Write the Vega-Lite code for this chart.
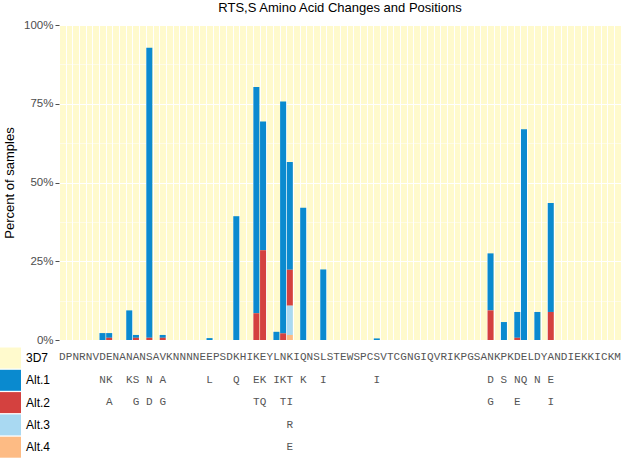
{
  "$schema": "https://vega.github.io/schema/vega-lite/v6.json",
  "padding": {"left": 0, "top": 1, "right": 2, "bottom": 0},
  "autosize": {"type": "pad"},
  "config": {"view": {"stroke": null}, "font": "Liberation Sans"},
  "datasets": {
    "seq": [
      {"pos":1,"allele":"3D7","aa":"D"},{"pos":2,"allele":"3D7","aa":"P"},{"pos":3,"allele":"3D7","aa":"N"},{"pos":4,"allele":"3D7","aa":"R"},{"pos":5,"allele":"3D7","aa":"N"},{"pos":6,"allele":"3D7","aa":"V"},{"pos":7,"allele":"3D7","aa":"D"},{"pos":8,"allele":"3D7","aa":"E"},{"pos":9,"allele":"3D7","aa":"N"},{"pos":10,"allele":"3D7","aa":"A"},
      {"pos":11,"allele":"3D7","aa":"N"},{"pos":12,"allele":"3D7","aa":"A"},{"pos":13,"allele":"3D7","aa":"N"},{"pos":14,"allele":"3D7","aa":"S"},{"pos":15,"allele":"3D7","aa":"A"},{"pos":16,"allele":"3D7","aa":"V"},{"pos":17,"allele":"3D7","aa":"K"},{"pos":18,"allele":"3D7","aa":"N"},{"pos":19,"allele":"3D7","aa":"N"},{"pos":20,"allele":"3D7","aa":"N"},
      {"pos":21,"allele":"3D7","aa":"N"},{"pos":22,"allele":"3D7","aa":"E"},{"pos":23,"allele":"3D7","aa":"E"},{"pos":24,"allele":"3D7","aa":"P"},{"pos":25,"allele":"3D7","aa":"S"},{"pos":26,"allele":"3D7","aa":"D"},{"pos":27,"allele":"3D7","aa":"K"},{"pos":28,"allele":"3D7","aa":"H"},{"pos":29,"allele":"3D7","aa":"I"},{"pos":30,"allele":"3D7","aa":"K"},
      {"pos":31,"allele":"3D7","aa":"E"},{"pos":32,"allele":"3D7","aa":"Y"},{"pos":33,"allele":"3D7","aa":"L"},{"pos":34,"allele":"3D7","aa":"N"},{"pos":35,"allele":"3D7","aa":"K"},{"pos":36,"allele":"3D7","aa":"I"},{"pos":37,"allele":"3D7","aa":"Q"},{"pos":38,"allele":"3D7","aa":"N"},{"pos":39,"allele":"3D7","aa":"S"},{"pos":40,"allele":"3D7","aa":"L"},
      {"pos":41,"allele":"3D7","aa":"S"},{"pos":42,"allele":"3D7","aa":"T"},{"pos":43,"allele":"3D7","aa":"E"},{"pos":44,"allele":"3D7","aa":"W"},{"pos":45,"allele":"3D7","aa":"S"},{"pos":46,"allele":"3D7","aa":"P"},{"pos":47,"allele":"3D7","aa":"C"},{"pos":48,"allele":"3D7","aa":"S"},{"pos":49,"allele":"3D7","aa":"V"},{"pos":50,"allele":"3D7","aa":"T"},
      {"pos":51,"allele":"3D7","aa":"C"},{"pos":52,"allele":"3D7","aa":"G"},{"pos":53,"allele":"3D7","aa":"N"},{"pos":54,"allele":"3D7","aa":"G"},{"pos":55,"allele":"3D7","aa":"I"},{"pos":56,"allele":"3D7","aa":"Q"},{"pos":57,"allele":"3D7","aa":"V"},{"pos":58,"allele":"3D7","aa":"R"},{"pos":59,"allele":"3D7","aa":"I"},{"pos":60,"allele":"3D7","aa":"K"},
      {"pos":61,"allele":"3D7","aa":"P"},{"pos":62,"allele":"3D7","aa":"G"},{"pos":63,"allele":"3D7","aa":"S"},{"pos":64,"allele":"3D7","aa":"A"},{"pos":65,"allele":"3D7","aa":"N"},{"pos":66,"allele":"3D7","aa":"K"},{"pos":67,"allele":"3D7","aa":"P"},{"pos":68,"allele":"3D7","aa":"K"},{"pos":69,"allele":"3D7","aa":"D"},{"pos":70,"allele":"3D7","aa":"E"},
      {"pos":71,"allele":"3D7","aa":"L"},{"pos":72,"allele":"3D7","aa":"D"},{"pos":73,"allele":"3D7","aa":"Y"},{"pos":74,"allele":"3D7","aa":"A"},{"pos":75,"allele":"3D7","aa":"N"},{"pos":76,"allele":"3D7","aa":"D"},{"pos":77,"allele":"3D7","aa":"I"},{"pos":78,"allele":"3D7","aa":"E"},{"pos":79,"allele":"3D7","aa":"K"},{"pos":80,"allele":"3D7","aa":"K"},
      {"pos":81,"allele":"3D7","aa":"I"},{"pos":82,"allele":"3D7","aa":"C"},{"pos":83,"allele":"3D7","aa":"K"},{"pos":84,"allele":"3D7","aa":"M"}
    ],
    "muts": [
      {"pos":7,"allele":"Alt.1","aa":"N","pct":2.2},
      {"pos":8,"allele":"Alt.1","aa":"K","pct":1.5},
      {"pos":8,"allele":"Alt.2","aa":"A","pct":0.7},
      {"pos":11,"allele":"Alt.1","aa":"K","pct":9.4},
      {"pos":12,"allele":"Alt.1","aa":"S","pct":0.9},
      {"pos":12,"allele":"Alt.2","aa":"G","pct":0.7},
      {"pos":14,"allele":"Alt.1","aa":"N","pct":92.1},
      {"pos":14,"allele":"Alt.2","aa":"D","pct":0.7},
      {"pos":16,"allele":"Alt.1","aa":"A","pct":0.9},
      {"pos":16,"allele":"Alt.2","aa":"G","pct":0.7},
      {"pos":23,"allele":"Alt.1","aa":"L","pct":0.6},
      {"pos":27,"allele":"Alt.1","aa":"Q","pct":39.3},
      {"pos":30,"allele":"Alt.1","aa":"E","pct":71.8},
      {"pos":30,"allele":"Alt.2","aa":"T","pct":8.5},
      {"pos":31,"allele":"Alt.1","aa":"K","pct":40.9},
      {"pos":31,"allele":"Alt.2","aa":"Q","pct":28.5},
      {"pos":33,"allele":"Alt.1","aa":"I","pct":2.6},
      {"pos":34,"allele":"Alt.1","aa":"K","pct":73.6},
      {"pos":34,"allele":"Alt.2","aa":"T","pct":2.1},
      {"pos":35,"allele":"Alt.1","aa":"T","pct":34.2},
      {"pos":35,"allele":"Alt.2","aa":"I","pct":11.4},
      {"pos":35,"allele":"Alt.3","aa":"R","pct":9.3},
      {"pos":35,"allele":"Alt.4","aa":"E","pct":1.6},
      {"pos":37,"allele":"Alt.1","aa":"K","pct":42.0},
      {"pos":40,"allele":"Alt.1","aa":"I","pct":22.4},
      {"pos":48,"allele":"Alt.1","aa":"I","pct":0.5},
      {"pos":65,"allele":"Alt.1","aa":"D","pct":18.1},
      {"pos":65,"allele":"Alt.2","aa":"G","pct":9.4},
      {"pos":67,"allele":"Alt.1","aa":"S","pct":5.7},
      {"pos":69,"allele":"Alt.1","aa":"N","pct":8.2},
      {"pos":69,"allele":"Alt.2","aa":"E","pct":0.7},
      {"pos":70,"allele":"Alt.1","aa":"Q","pct":66.9},
      {"pos":72,"allele":"Alt.1","aa":"N","pct":8.9},
      {"pos":74,"allele":"Alt.1","aa":"E","pct":34.6},
      {"pos":74,"allele":"Alt.2","aa":"I","pct":8.9}
    ]
  },
  "vconcat": [
    {
      "title": {"text": "RTS,S Amino Acid Changes and Positions", "anchor": "middle", "frame": "group", "fontSize": 13, "fontWeight": "normal", "font": "Liberation Sans", "color": "#000000", "offset": 4.5},
      "width": 562,
      "height": 315,
      "view": {"fill": "#FFFACD", "stroke": null},
      "data": {"name": "muts"},
      "mark": {"type": "bar"},
      "encoding": {
        "x": {
          "field": "pos", "type": "ordinal",
          "scale": {"domain": [1,2,3,4,5,6,7,8,9,10,11,12,13,14,15,16,17,18,19,20,21,22,23,24,25,26,27,28,29,30,31,32,33,34,35,36,37,38,39,40,41,42,43,44,45,46,47,48,49,50,51,52,53,54,55,56,57,58,59,60,61,62,63,64,65,66,67,68,69,70,71,72,73,74,75,76,77,78,79,80,81,82,83,84], "paddingInner": 0.1, "paddingOuter": 0.05},
          "axis": {"title": null, "labels": false, "ticks": false, "domain": false, "grid": true, "gridColor": "#ffffff", "gridWidth": 1, "bandPosition": 0}
        },
        "y": {
          "field": "pct", "type": "quantitative", "stack": "zero",
          "scale": {"domain": [0, 100], "nice": false},
          "axis": {
            "title": "Percent of samples", "titleFontSize": 13, "titleFontWeight": "normal", "titleColor": "#000000", "titleFont": "Liberation Sans", "titlePadding": 7,
            "values": [0, 12.5, 25, 37.5, 50, 62.5, 75, 87.5, 100],
            "labelExpr": "datum.value % 25 === 0 ? datum.value + '%' : ''",
            "labelFontSize": 11.5, "labelColor": "#4d4d4d", "labelPadding": 2, "labelFont": "Liberation Sans",
            "tickSize": 4, "tickColor": "#4d4d4d",
            "tickOpacity": {"condition": {"test": "datum.value % 25 === 0", "value": 1}, "value": 0},
            "domain": false, "grid": true, "gridColor": "#ffffff",
            "gridWidth": {"condition": {"test": "datum.value % 25 === 0", "value": 1}, "value": 0.5}
          }
        },
        "color": {
          "field": "allele", "type": "nominal",
          "scale": {"domain": ["3D7", "Alt.1", "Alt.2", "Alt.3", "Alt.4"], "range": ["#FFFACD", "#0A8ACF", "#D4413F", "#A9D9F2", "#FDBB84"]},
          "legend": {"orient": "none", "legendX": -59, "legendY": 322.5, "title": null, "symbolType": "square", "symbolSize": 441, "symbolStrokeWidth": 0, "symbolOpacity": 1, "labelFontSize": 12, "labelFont": "Liberation Sans", "labelColor": "#000000", "labelOffset": 5, "rowPadding": 1.3, "direction": "vertical", "padding": 0}
        },
        "order": {"field": "allele", "sort": "descending"}
      }
    },
    {
      "width": 562,
      "height": 112.5,
      "encoding": {
        "x": {
          "field": "pos", "type": "ordinal",
          "scale": {"domain": [1,2,3,4,5,6,7,8,9,10,11,12,13,14,15,16,17,18,19,20,21,22,23,24,25,26,27,28,29,30,31,32,33,34,35,36,37,38,39,40,41,42,43,44,45,46,47,48,49,50,51,52,53,54,55,56,57,58,59,60,61,62,63,64,65,66,67,68,69,70,71,72,73,74,75,76,77,78,79,80,81,82,83,84], "paddingInner": 0.1, "paddingOuter": 0.05},
          "axis": null
        },
        "y": {
          "field": "allele", "type": "nominal",
          "scale": {"domain": ["3D7", "Alt.1", "Alt.2", "Alt.3", "Alt.4"], "paddingInner": 0, "paddingOuter": 0},
          "axis": null
        },
        "text": {"field": "aa", "type": "nominal"}
      },
      "layer": [
        {"data": {"name": "seq"}, "mark": {"type": "text", "font": "Liberation Mono", "fontSize": 11, "color": "#555555"}},
        {"data": {"name": "muts"}, "mark": {"type": "text", "font": "Liberation Mono", "fontSize": 11, "color": "#555555"}}
      ]
    }
  ],
  "spacing": 6,
  "bounds": "flush",
  "resolve": {"legend": {"color": "independent"}}
}
